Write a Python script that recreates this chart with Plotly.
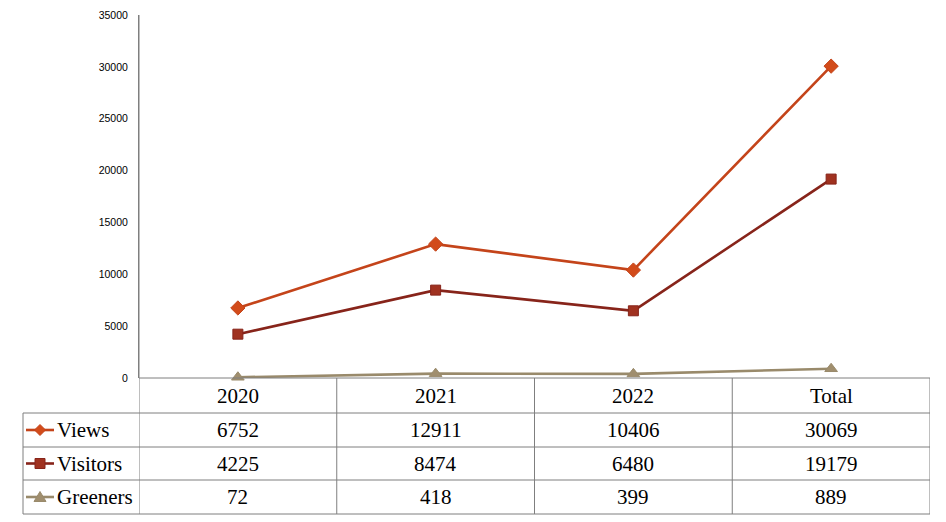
import plotly.graph_objects as go

categories = ["2020", "2021", "2022", "Total"]
views = [6752, 12911, 10406, 30069]
visitors = [4225, 8474, 6480, 19179]
greeners = [72, 418, 399, 889]
y_ticks = [0, 5000, 10000, 15000, 20000, 25000, 30000, 35000]

series = [
    ("Views", views, "#C4441A", "#D24B1A", "diamond", 11),
    ("Visitors", visitors, "#87241A", "#A03220", "square", 10),
    ("Greeners", greeners, "#998A6B", "#A08E6E", "triangle-up", 11),
]

OFF = 8  # page body margin
W, H = 938, 514
L, T = 139 - OFF, 15 - OFF
R = W - (930 - OFF)
B = H - (378 - OFF)
PW, PH = W - L - R, H - T - B

def py(p):  # window pixel y -> paper y
    return (H - B - (p - OFF)) / PH

def px(p):  # window pixel x -> paper x
    return (p - OFF - L) / PW

xs = list(range(len(categories)))
fig = go.Figure()
for name, vals, lc, mc, sym, ms in series:
    fig.add_trace(go.Scatter(
        x=xs, y=vals, mode="lines+markers", name=name,
        line=dict(color=lc, width=2.6),
        marker=dict(symbol=sym, size=ms, color=mc, line=dict(color=lc, width=1)),
        cliponaxis=False, showlegend=False,
    ))

grid = "#7F7F7F"
shapes = []
row_lines = [378, 413, 447, 480, 514]
shapes.append(dict(type="line", xref="paper", yref="paper", x0=0, x1=1,
                   y0=py(378), y1=py(378), line=dict(color=grid, width=1)))
for r in row_lines[1:]:
    shapes.append(dict(type="line", xref="paper", yref="paper", x0=px(23), x1=1,
                       y0=py(r), y1=py(r), line=dict(color=grid, width=1)))
shapes.append(dict(type="line", xref="paper", yref="paper", x0=px(23), x1=px(23),
                   y0=py(413), y1=py(514), line=dict(color=grid, width=1)))
for k in range(len(categories) + 1):
    xv = k - 0.5
    shapes.append(dict(type="line", xref="x", yref="paper", x0=xv, x1=xv,
                       y0=py(514), y1=py(378) if k > 0 else 1,
                       line=dict(color=grid, width=1)))

font_t = dict(family="Liberation Serif", size=21, color="#000000")
annotations = []
for i, c in enumerate(categories):
    annotations.append(dict(x=i, y=(py(378) + py(413)) / 2, xref="x", yref="paper",
                            text=c, showarrow=False, xanchor="center", yanchor="middle",
                            font=font_t))
paths = {
    "diamond": "M 0 -5.5 L 5.5 0 L 0 5.5 L -5.5 0 Z",
    "square": "M -5 -5 L 5 -5 L 5 5 L -5 5 Z",
    "triangle-up": "M -6 -4.5 L 6 -4.5 L 0 5.5 Z",
}
for j, (name, vals, lc, mc, sym, ms) in enumerate(series):
    yc = (py(row_lines[j + 1]) + py(row_lines[j + 2])) / 2
    shapes.append(dict(type="line", xref="paper", yref="paper", x0=px(26), x1=px(54),
                       y0=yc, y1=yc, line=dict(color=lc, width=2.6)))
    shapes.append(dict(type="path", xref="paper", yref="paper", xsizemode="pixel",
                       ysizemode="pixel", xanchor=px(40), yanchor=yc, path=paths[sym],
                       fillcolor=mc, line=dict(color=lc, width=1)))
    annotations.append(dict(x=px(55), y=yc, xref="paper", yref="paper", text=name,
                            showarrow=False, xanchor="left", yanchor="middle", font=font_t))
    for i, v in enumerate(vals):
        annotations.append(dict(x=i, y=yc, xref="x", yref="paper", text=str(v),
                                showarrow=False, xanchor="center", yanchor="middle",
                                font=font_t))

fig.update_layout(
    width=W, height=H, autosize=False,
    margin=dict(l=L, r=R, t=T, b=B, autoexpand=False),
    paper_bgcolor="white", plot_bgcolor="white",
    shapes=shapes, annotations=annotations,
    xaxis=dict(range=[-0.5, len(categories) - 0.5], showticklabels=False, ticks="",
               showgrid=False, zeroline=False, showline=False, fixedrange=True,
               automargin=False),
    yaxis=dict(range=[0, 35000], tickvals=y_ticks, ticktext=[str(v) for v in y_ticks],
               showgrid=False, zeroline=False, showline=True, linecolor=grid, linewidth=1,
               ticks="outside", ticklen=8, tickcolor="rgba(0,0,0,0)", automargin=False,
               tickfont=dict(family="Liberation Sans", size=10.5, color="#000000")),
)

fig.write_html("out.html")
